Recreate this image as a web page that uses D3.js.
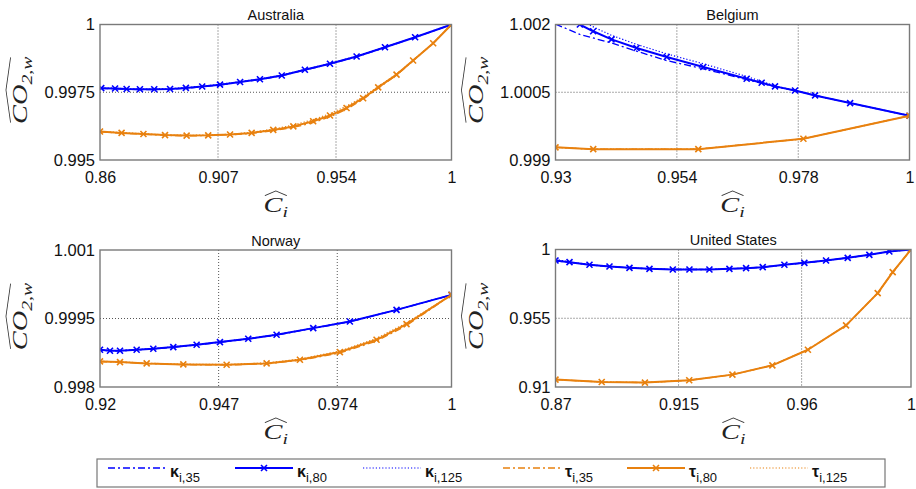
<!DOCTYPE html>
<html><head><meta charset="utf-8">
<script src="https://cdn.jsdelivr.net/npm/d3@7"></script>
<style>body{margin:0;background:#fff}svg{display:block}</style>
</head><body><svg id="c" width="916" height="489"></svg>
<script>
// ---------------- DATA ----------------
const countries = ["Australia", "Belgium", "Norway", "United States"];
const seriesNames = ["κ", "κ", "κ", "τ", "τ", "τ"];
const seriesSubs = ["i,35", "i,80", "i,125", "i,35", "i,80", "i,125"];

// Australia
const ausXDomain = [0.86, 1];
const ausYDomain = [0.995, 1];
const ausXTicks = ["0.86", "0.907", "0.954", "1"];
const ausYTicks = ["0.995", "0.9975", "1"];
const ausXk = [0.8605, 0.866, 0.8706, 0.8759, 0.8816, 0.8879, 0.8942, 0.9007, 0.9078, 0.9158, 0.9237, 0.9324, 0.9416, 0.9516, 0.9622, 0.9735, 0.9855, 1.0];
const ausK35 = [0.99764, 0.99763, 0.99761, 0.99760, 0.99760, 0.99761, 0.99765, 0.99770, 0.99777, 0.99787, 0.99797, 0.99811, 0.99832, 0.99854, 0.99881, 0.99915, 0.99952, 1.0];
const ausK80 = [0.99765, 0.99764, 0.99762, 0.99761, 0.99761, 0.99762, 0.99766, 0.99771, 0.99778, 0.99788, 0.99798, 0.99812, 0.99833, 0.99855, 0.99882, 0.99916, 0.99953, 1.0];
const ausK125 = [0.99766, 0.99765, 0.99763, 0.99762, 0.99762, 0.99763, 0.99767, 0.99772, 0.99779, 0.99789, 0.99799, 0.99813, 0.99834, 0.99856, 0.99883, 0.99917, 0.99954, 1.0];
const ausXt = [0.86, 0.8686, 0.8773, 0.8859, 0.8945, 0.9031, 0.9118, 0.9204, 0.929, 0.937, 0.9449, 0.9516, 0.9582, 0.9648, 0.9708, 0.9781, 0.9847, 0.9927, 1.0];
const ausT35 = [0.99604, 0.99599, 0.99595, 0.99591, 0.99589, 0.99590, 0.99593, 0.99598, 0.99608, 0.99620, 0.99638, 0.99659, 0.99687, 0.99724, 0.99765, 0.99813, 0.99866, 0.99931, 1.0];
const ausT80 = [0.99605, 0.99600, 0.99596, 0.99592, 0.99590, 0.99591, 0.99594, 0.99600, 0.99611, 0.99624, 0.99643, 0.99664, 0.99692, 0.99728, 0.99768, 0.99815, 0.99867, 0.99931, 1.0];
const ausT125 = [0.99606, 0.99601, 0.99597, 0.99593, 0.99591, 0.99592, 0.99595, 0.99602, 0.99614, 0.99629, 0.99649, 0.99671, 0.99699, 0.99733, 0.99771, 0.99817, 0.99868, 0.99931, 1.0];

// Belgium
const belXDomain = [0.93, 1];
const belYDomain = [0.999, 1.002];
const belXTicks = ["0.93", "0.954", "0.978", "1"];
const belYTicks = ["0.999", "1.0005", "1.002"];
const belXk35 = [0.93, 0.93482, 0.94108, 0.94603, 0.9520, 0.95923, 0.9678, 0.97341, 0.97737, 0.98133, 0.98826, 1.0];
const belK35 = [1.00201, 1.00178, 1.00159, 1.00141, 1.0012, 1.00102, 1.00078, 1.00062, 1.00054, 1.00043, 1.00026, 0.99998];
const belXk80 = [0.93, 0.93482, 0.93745, 0.94108, 0.94603, 0.9520, 0.95923, 0.9678, 0.97077, 0.97341, 0.97737, 0.98133, 0.98826, 1.0];
const belK80 = [1.00227, 1.002, 1.00185, 1.00167, 1.00148, 1.00128, 1.00106, 1.0008, 1.00071, 1.00063, 1.00054, 1.00043, 1.00026, 0.99998];
const belXk125 = [0.93, 0.93646, 0.94108, 0.94603, 0.9520, 0.95923, 0.9678, 0.97341, 0.97737, 0.98133, 0.98826, 1.0];
const belK125 = [1.0025, 1.002, 1.00176, 1.00156, 1.00135, 1.00113, 1.00085, 1.00064, 1.00054, 1.00043, 1.00026, 0.99998];
const belXt = [0.93, 0.93746, 0.95824, 0.97902, 1.0];
const belT35 = [0.99928, 0.99924, 0.99924, 0.99947, 0.99998];
const belT80 = [0.99928, 0.99924, 0.99924, 0.99947, 0.99998];
const belT125 = [0.99928, 0.99924, 0.99924, 0.99947, 0.99998];

// Norway
const norXDomain = [0.92, 1];
const norYDomain = [0.998, 1.001];
const norXTicks = ["0.92", "0.947", "0.974", "1"];
const norYTicks = ["0.998", "0.9995", "1.001"];
const norXk = [0.92, 0.92227, 0.92455, 0.92834, 0.93213, 0.93668, 0.94199, 0.9473, 0.95374, 0.96019, 0.96853, 0.97687, 0.98749, 1.0];
const norK35 = [0.998812, 0.99879, 0.99879, 0.998812, 0.998833, 0.99887, 0.998921, 0.998979, 0.999052, 0.999139, 0.999285, 0.99943, 0.999686, 1.000017];
const norK80 = [0.998816, 0.998794, 0.998794, 0.998816, 0.998837, 0.998874, 0.998925, 0.998983, 0.999056, 0.999143, 0.999289, 0.999434, 0.999689, 1.000017];
const norK125 = [0.99882, 0.998798, 0.998798, 0.99882, 0.998841, 0.998878, 0.998929, 0.998987, 0.99906, 0.999147, 0.999293, 0.999438, 0.999692, 1.000017];
const norXt = [0.92, 0.92455, 0.93062, 0.93896, 0.94882, 0.95792, 0.9655, 0.9746, 0.98294, 0.98976, 1.0];
const norT35 = [0.998558, 0.998543, 0.998513, 0.99849, 0.998482, 0.998508, 0.998583, 0.998745, 0.999005, 0.999345, 1.000017];
const norT80 = [0.998561, 0.998546, 0.998517, 0.998495, 0.998488, 0.998517, 0.998597, 0.998765, 0.999034, 0.999376, 1.000017];
const norT125 = [0.998565, 0.99855, 0.998522, 0.9985, 0.998494, 0.998526, 0.998612, 0.998787, 0.999065, 0.999405, 1.000017];

// United States
const usaXDomain = [0.87, 1];
const usaYDomain = [0.91, 1];
const usaXTicks = ["0.87", "0.915", "0.96", "1"];
const usaYTicks = ["0.91", "0.955", "1"];
const usaXk = [0.87, 0.87512, 0.88243, 0.88974, 0.89705, 0.90436, 0.91289, 0.91898, 0.92629, 0.9336, 0.93969, 0.94578, 0.9537, 0.96101, 0.96893, 0.97685, 0.98477, 0.99208, 1.0];
const usaK35 = [0.99261, 0.99162, 0.98993, 0.98885, 0.98798, 0.98733, 0.98690, 0.98690, 0.98690, 0.98734, 0.98778, 0.98843, 0.98996, 0.99127, 0.9928, 0.99454, 0.9965, 0.99869, 1.0];
const usaK80 = [0.99281, 0.99172, 0.98998, 0.98889, 0.98801, 0.98736, 0.98692, 0.98692, 0.98692, 0.98736, 0.9878, 0.98845, 0.98998, 0.99128, 0.99281, 0.99455, 0.99651, 0.99869, 1.0];
const usaK125 = [0.9935, 0.99195, 0.99005, 0.98893, 0.98804, 0.98739, 0.98694, 0.98694, 0.98694, 0.98738, 0.98782, 0.98847, 0.99, 0.99129, 0.99282, 0.99456, 0.99652, 0.99869, 1.0];
const usaXt = [0.87, 0.8869, 0.9027, 0.9189, 0.9347, 0.9493, 0.9623, 0.97625, 0.98782, 0.99331, 1.0];
const usaT35 = [0.91484, 0.91327, 0.91288, 0.91438, 0.9181, 0.92418, 0.9344, 0.95031, 0.97145, 0.98518, 1.0];
const usaT80 = [0.91484, 0.91327, 0.91288, 0.91438, 0.9181, 0.92418, 0.9344, 0.95031, 0.97145, 0.98518, 1.0];
const usaT125 = [0.91484, 0.91327, 0.91288, 0.91438, 0.9181, 0.92418, 0.9344, 0.95031, 0.97145, 0.98518, 1.0];

// ---------------- LAYOUT / STYLE ----------------
const BLUE = "#0000ff", ORANGE = "#e8810f";
const styles = [
  {color: BLUE, w: 1.3, dash: "7,3,2,3", marker: false},
  {color: BLUE, w: 2, dash: null, marker: true},
  {color: BLUE, w: 1.2, dash: "1.2,2", marker: false},
  {color: ORANGE, w: 1.3, dash: "7,3,2,3", marker: false},
  {color: ORANGE, w: 2, dash: null, marker: true},
  {color: ORANGE, w: 1.2, dash: "1.2,2", marker: false}
];
const drawOrder = [0, 2, 1, 3, 5, 4];

const panelDefs = [
  {title: countries[0], box: [100, 24.5, 451.5, 160], xd: ausXDomain, yd: ausYDomain, xt: ausXTicks, yt: ausYTicks,
   series: [[ausXk, ausK35], [ausXk, ausK80], [ausXk, ausK125], [ausXt, ausT35], [ausXt, ausT80], [ausXt, ausT125]]},
  {title: countries[1], box: [555.5, 24.5, 909.5, 160], xd: belXDomain, yd: belYDomain, xt: belXTicks, yt: belYTicks,
   series: [[belXk35, belK35], [belXk80, belK80], [belXk125, belK125], [belXt, belT35], [belXt, belT80], [belXt, belT125]]},
  {title: countries[2], box: [100, 250, 451.5, 387], xd: norXDomain, yd: norYDomain, xt: norXTicks, yt: norYTicks,
   series: [[norXk, norK35], [norXk, norK80], [norXk, norK125], [norXt, norT35], [norXt, norT80], [norXt, norT125]]},
  {title: countries[3], box: [555.5, 249.5, 911, 387], xd: usaXDomain, yd: usaYDomain, xt: usaXTicks, yt: usaYTicks,
   series: [[usaXk, usaK35], [usaXk, usaK80], [usaXk, usaK125], [usaXt, usaT35], [usaXt, usaT80], [usaXt, usaT125]]}
];

const svg = d3.select("#c");
svg.append("rect").attr("width", 916).attr("height", 489).attr("fill", "#fff");
const SANS = "'Liberation Sans', Arial, sans-serif";
const SERIF = "'Liberation Serif', 'DejaVu Serif', serif";

function markerPath(s) { return `M${-s},${-s}L${s},${s}M${-s},${s}L${s},${-s}`; }

function mathLabel(g, main, sub, size) {
  const t = g.append("text").attr("font-family", SERIF).attr("font-style", "italic")
    .attr("font-size", size).attr("fill", "#222").attr("text-anchor", "middle");
  t.append("tspan").text(main);
  t.append("tspan").attr("font-size", size * 0.7).attr("dy", size * 0.25).text(sub);
  const bb = t.node().getBBox();
  const y0 = bb.y + size * 0.1;
  const h = size * 0.22;
  g.append("path")
    .attr("d", `M${bb.x + 1},${y0} L${bb.x + bb.width * 0.5},${y0 - h} L${bb.x + bb.width - 1},${y0}`)
    .attr("fill", "none").attr("stroke", "#333").attr("stroke-width", 0.8);
}

panelDefs.forEach((p, pi) => {
  const [x0, y0, x1, y1] = p.box;
  const x = d3.scaleLinear().domain(p.xd).range([x0, x1]);
  const y = d3.scaleLinear().domain(p.yd).range([y1, y0]);
  const g = svg.append("g");
  const cid = "clip" + pi;
  svg.append("clipPath").attr("id", cid).append("rect")
    .attr("x", x0).attr("y", y0).attr("width", x1 - x0).attr("height", y1 - y0);

  // grid (interior ticks)
  const xtv = p.xt.map(Number), ytv = p.yt.map(Number);
  g.selectAll(".gx").data(xtv.slice(1, -1)).join("line")
    .attr("x1", d => x(d)).attr("x2", d => x(d)).attr("y1", y0).attr("y2", y1)
    .attr("stroke", "#555").attr("stroke-width", 1).attr("stroke-dasharray", "1,2");
  g.selectAll(".gy").data(ytv.slice(1, -1)).join("line")
    .attr("y1", d => y(d)).attr("y2", d => y(d)).attr("x1", x0).attr("x2", x1)
    .attr("stroke", "#555").attr("stroke-width", 1).attr("stroke-dasharray", "1,2");

  // series
  const lg = g.append("g").attr("clip-path", `url(#${cid})`);
  const line = d3.line().x(d => x(d[0])).y(d => y(d[1]));
  drawOrder.forEach(si => {
    const [xs, ys] = p.series[si];
    const pts = xs.map((v, i) => [v, ys[i]]);
    const st = styles[si];
    lg.append("path").datum(pts).attr("d", line).attr("fill", "none")
      .attr("stroke", st.color).attr("stroke-width", st.w)
      .attr("stroke-dasharray", st.dash).attr("stroke-linejoin", "round");
    if (st.marker) {
      lg.selectAll(null).data(pts).join("path")
        .attr("transform", d => `translate(${x(d[0])},${y(d[1])})`)
        .attr("d", markerPath(3)).attr("stroke", st.color).attr("stroke-width", 1.6).attr("fill", "none");
    }
  });

  // axes box
  g.append("rect").attr("x", x0).attr("y", y0).attr("width", x1 - x0).attr("height", y1 - y0)
    .attr("fill", "none").attr("stroke", "#7a7a7a").attr("stroke-width", 1.4);

  // tick labels via d3 axes
  const xAxis = d3.axisBottom(x).tickValues(xtv).tickFormat((d, i) => p.xt[i]).tickSize(0).tickPadding(0);
  const xa = g.append("g").attr("transform", `translate(0,${y1})`).call(xAxis);
  xa.select(".domain").remove();
  xa.selectAll("text").attr("font-family", SANS).attr("font-size", 16).attr("fill", "#111")
    .attr("dy", null).attr("y", 22.5);
  const yAxis = d3.axisLeft(y).tickValues(ytv).tickFormat((d, i) => p.yt[i]).tickSize(0).tickPadding(5);
  const ya = g.append("g").attr("transform", `translate(${x0},0)`).call(yAxis);
  ya.select(".domain").remove();
  ya.selectAll("text").attr("font-family", SANS).attr("font-size", 16.5).attr("fill", "#111");

  // title
  g.append("text").attr("x", (x0 + x1) / 2).attr("y", y0 - 4.5).attr("text-anchor", "middle")
    .attr("font-family", SANS).attr("font-size", 14.5).attr("fill", "#111").text(p.title);

  // x label
  const xl = g.append("g").attr("transform", `translate(${(x0 + x1) / 2},${y1 + 52}) scale(1.35,1)`);
  mathLabel(xl, "C", "i", 21);
  // y label
  const yl = g.append("g").attr("transform", `translate(${x0 - 73},${(y0 + y1) / 2 - 2}) rotate(-90) scale(1.35,1)`);
  mathLabel(yl, "CO", "2,w", 21);
});

// ---------------- LEGEND ----------------
const leg = svg.append("g");
leg.append("rect").attr("x", 97).attr("y", 459).attr("width", 788).attr("height", 28)
  .attr("fill", "#fff").attr("stroke", "#777").attr("stroke-width", 1.2);
const legendX = [108, 235, 363, 503, 627, 750];
const legLen = 58, legY = 468;
styles.forEach((st, i) => {
  const lx = legendX[i];
  leg.append("line").attr("x1", lx).attr("x2", lx + legLen).attr("y1", legY).attr("y2", legY)
    .attr("stroke", st.color).attr("stroke-width", st.w).attr("stroke-dasharray", st.dash);
  if (st.marker) {
    leg.append("path").attr("transform", `translate(${lx + legLen / 2},${legY})`)
      .attr("d", markerPath(3)).attr("stroke", st.color).attr("stroke-width", 1.6);
  }
  const t = leg.append("text").attr("x", lx + legLen + 4).attr("y", 477)
    .attr("font-family", SANS).attr("font-size", 16).attr("fill", "#111");
  t.append("tspan").attr("font-weight", "bold").text(seriesNames[i]);
  t.append("tspan").attr("font-size", 13).attr("dy", 5).text(seriesSubs[i]);
});
</script></body></html>
